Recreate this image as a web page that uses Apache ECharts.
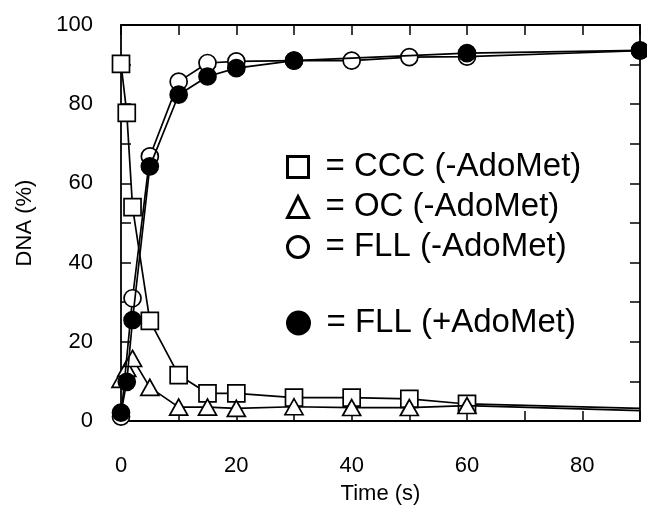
<!DOCTYPE html>
<html><head><meta charset="utf-8">
<script src="https://cdn.jsdelivr.net/npm/echarts@6/dist/echarts.min.js"></script>
<style>html,body{margin:0;padding:0;background:#fff}#c{width:647px;height:510px}</style>
</head><body><div id="c"></div>
<script>
// Data
const cccTime = [0, 1, 2, 5, 10, 15, 20, 30, 40, 50, 60, 90];
const cccVal  = [90.2, 77.8, 54, 25.3, 11.6, 7, 7, 5.9, 5.9, 5.6, 4.3, 3.2];
const ocTime  = [0, 1, 2, 5, 10, 15, 20, 30, 40, 50, 60, 90];
const ocVal   = [10.5, 13.3, 15.8, 8.5, 3.5, 3.5, 3.2, 3.6, 3.4, 3.4, 3.9, 2.6];
const fllMTime = [0, 2, 5, 10, 15, 20, 30, 40, 50, 60, 90];
const fllMVal  = [1.1, 31, 66.8, 85.7, 90.4, 90.8, 91, 91, 91.9, 92, 93.5];
const fllPTime = [0, 1, 2, 5, 10, 15, 20, 30, 60, 90];
const fllPVal  = [2.1, 9.9, 25.5, 64.3, 82.4, 87, 89.1, 91, 92.9, 93.6];
// points that only continue the line to the frame (no visible marker)
const lineOnlyTimes = [90];
const names = ['= CCC (-AdoMet)', '= OC (-AdoMet)', '= FLL (-AdoMet)', '= FLL (+AdoMet)'];
const xTicks = [0, 20, 40, 60, 80];
const yTicks = [0, 20, 40, 60, 80, 100];

function pts(t, v, markAll) {
  return t.map((x, i) => {
    const item = { value: [x, v[i]] };
    if (!markAll && lineOnlyTimes.includes(x)) item.symbol = 'none';
    return item;
  });
}
const FONT = 'Liberation Sans, Arial, sans-serif';
const chart = echarts.init(document.getElementById('c'));
const axisCommon = {
  axisLine: { show: true, onZero: false, lineStyle: { color: '#000', width: 1.8 } },
  axisTick: { show: true, inside: true, length: 10, lineStyle: { color: '#000', width: 1.5 } },
  splitLine: { show: false },
  interval: 10
};
function series(name, t, v, symbol, size, filled, markAll, z) {
  return {
    name, type: 'line', data: pts(t, v, markAll), symbol, symbolSize: size,
    showAllSymbol: true, clip: true, z,
    lineStyle: { color: '#000', width: 1.7 },
    itemStyle: { color: filled ? '#000' : '#fff', borderColor: '#000', borderWidth: 1.7, opacity: 1 },
    emphasis: { disabled: true }, animation: false
  };
}
chart.setOption({
  animation: false,
  grid: { left: 121, top: 25, right: 7, bottom: 89 },
  xAxis: [
    Object.assign({}, axisCommon, {
      type: 'value', min: 0, max: 90, position: 'bottom',
      name: 'Time (s)', nameLocation: 'middle', nameGap: 62,
      nameTextStyle: { fontFamily: FONT, fontSize: 22, color: '#000' },
      axisLabel: { fontFamily: FONT, fontSize: 22, color: '#000', margin: 34,
        formatter: v => xTicks.includes(v) ? String(v) : '' }
    }),
    Object.assign({}, axisCommon, {
      type: 'value', min: 0, max: 90, position: 'top', axisLabel: { show: false }
    })
  ],
  yAxis: [
    Object.assign({}, axisCommon, {
      type: 'value', min: 0, max: 100, position: 'left',
      name: 'DNA (%)', nameLocation: 'middle', nameGap: 85,
      nameTextStyle: { fontFamily: FONT, fontSize: 22, color: '#000' },
      axisLabel: { fontFamily: FONT, fontSize: 22, color: '#000', margin: 28,
        formatter: v => yTicks.includes(v) ? String(v) : '' }
    }),
    Object.assign({}, axisCommon, {
      type: 'value', min: 0, max: 100, position: 'right', axisLabel: { show: false }
    })
  ],
  legend: [
    {
      orient: 'vertical', left: 281, top: 143, itemWidth: 21, itemHeight: 21, itemGap: 2,
      selectedMode: false,
      itemStyle: { borderWidth: 3 },
      textStyle: { fontFamily: FONT, fontSize: 33, color: '#000', lineHeight: 38, padding: [0, 0, 0, 12] },
      data: [{ name: names[0], icon: 'rect' }, { name: names[1], icon: 'triangle' }, { name: names[2], icon: 'circle' }]
    },
    {
      orient: 'vertical', left: 281, top: 299, itemWidth: 22, itemHeight: 22,
      selectedMode: false,
      itemStyle: { borderWidth: 3 },
      textStyle: { fontFamily: FONT, fontSize: 33, color: '#000', lineHeight: 38, padding: [0, 0, 0, 12] },
      data: [{ name: names[3], icon: 'circle' }]
    }
  ],
  series: [
    series(names[0], cccTime, cccVal, 'rect', 17, false, false, 2),
    series(names[1], ocTime, ocVal, 'triangle', [18, 16], false, false, 3),
    series(names[2], fllMTime, fllMVal, 'circle', 17, false, true, 4),
    series(names[3], fllPTime, fllPVal, 'circle', 17, true, true, 5)
  ]
});
</script></body></html>
